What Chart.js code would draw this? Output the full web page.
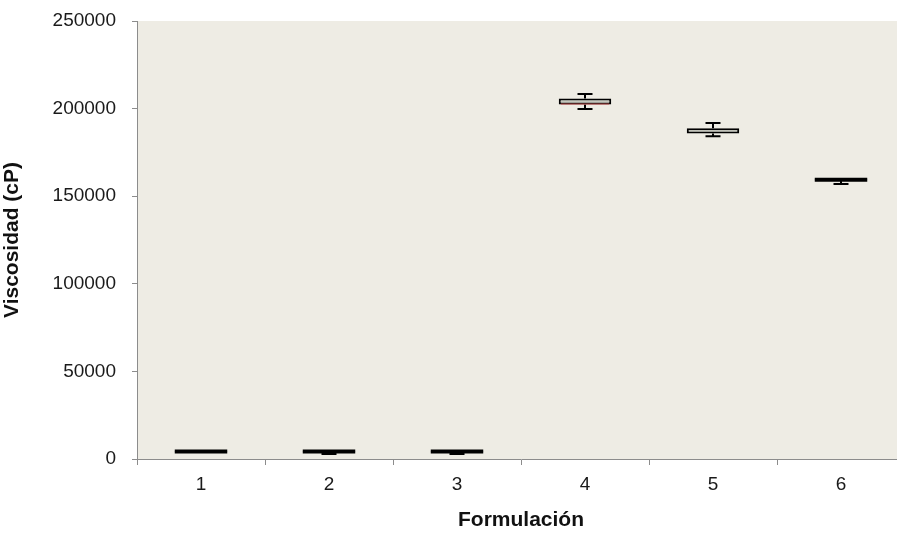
<!DOCTYPE html>
<html>
<head>
<meta charset="utf-8">
<script src="https://cdn.jsdelivr.net/npm/chart.js@4/dist/chart.umd.min.js"></script>
<style>
  html, body { margin: 0; padding: 0; background: #fff; overflow: hidden; }
  #wrap { position: relative; width: 910px; height: 533px; }
</style>
</head>
<body>
<div id="wrap"><canvas id="boxChart"></canvas></div>
<script>
/* ── DATA ─────────────────────────────── */
const categories = ['1', '2', '3', '4', '5', '6'];
const whiskerMin = [4000, 2900, 2900, 199800, 184200, 157000];
const quartile1  = [4000, 4000, 4000, 202300, 185800, 158900];
const medians    = [4300, 4200, 4200, 202600, 185800, 159400];
const quartile3  = [4600, 4500, 4500, 205700, 188800, 160000];
const whiskerMax = [4600, 4500, 4500, 208300, 191800, 160000];
const yTicks     = [0, 50000, 100000, 150000, 200000, 250000];

const FONT = "'Liberation Sans', Arial, sans-serif";

// plot area background
const plotBg = {
    id: 'plotBg',
    beforeDraw(chart) {
        const { ctx, chartArea: a } = chart;
        ctx.save();
        ctx.fillStyle = '#eeece4';
        ctx.fillRect(a.left, a.top, a.right - a.left, a.bottom - a.top);
        ctx.restore();
    }
};

// whiskers + median lines drawn through the scales
const whiskers = {
    id: 'whiskers',
    afterDatasetsDraw(chart) {
        const { ctx } = chart;
        const y = chart.scales.y;
        const meta = chart.getDatasetMeta(0);
        ctx.save();
        meta.data.forEach((bar, i) => {
            const x = bar.x;
            const cap = 7.5;
            const half = bar.width / 2;
            const yTop = y.getPixelForValue(quartile3[i]);
            const yBot = y.getPixelForValue(quartile1[i]);
            ctx.strokeStyle = '#000';
            ctx.lineWidth = 2;
            ctx.beginPath();
            if (whiskerMax[i] > quartile3[i]) {
                ctx.moveTo(x, yTop);
                ctx.lineTo(x, y.getPixelForValue(whiskerMax[i]));
                ctx.moveTo(x - cap, y.getPixelForValue(whiskerMax[i]));
                ctx.lineTo(x + cap, y.getPixelForValue(whiskerMax[i]));
            }
            if (whiskerMin[i] < quartile1[i]) {
                ctx.moveTo(x, yBot);
                ctx.lineTo(x, y.getPixelForValue(whiskerMin[i]));
                ctx.moveTo(x - cap, y.getPixelForValue(whiskerMin[i]));
                ctx.lineTo(x + cap, y.getPixelForValue(whiskerMin[i]));
            }
            ctx.stroke();
            if (yBot - yTop < 4) {
                // collapsed box: thick black bar
                ctx.lineWidth = 4;
                ctx.beginPath();
                ctx.moveTo(x - half, (yTop + yBot) / 2);
                ctx.lineTo(x + half, (yTop + yBot) / 2);
                ctx.stroke();
            } else if (medians[i] !== quartile1[i]) {
                const my = y.getPixelForValue(medians[i]);
                ctx.strokeStyle = '#c0504d';
                ctx.lineWidth = 1;
                ctx.beginPath();
                ctx.moveTo(x - half + 2, my);
                ctx.lineTo(x + half - 2, my);
                ctx.stroke();
            }
        });
        ctx.restore();
    }
};

new Chart(document.getElementById('boxChart'), {
    type: 'bar',
    data: {
        labels: categories,
        datasets: [{
            label: 'Viscosidad',
            data: quartile1.map((q, i) => [q, quartile3[i]]),
            backgroundColor: '#c4c7bd',
            borderColor: '#000',
            borderWidth: 2,
            borderSkipped: false,
            barPercentage: 0.41,
            categoryPercentage: 1
        }]
    },
    options: {
        responsive: true,
        maintainAspectRatio: false,
        animation: false,
        layout: { padding: { left: 0, right: 5, top: 21, bottom: 0 } },
        plugins: {
            legend: { display: false },
            tooltip: { enabled: false }
        },
        scales: {
            x: {
                grid: {
                    drawOnChartArea: false,
                    drawTicks: true,
                    tickLength: 6,
                    color: '#8c8c8c',
                    offset: true
                },
                border: { color: '#8c8c8c', width: 1 },
                ticks: {
                    color: '#1a1a1a',
                    padding: 8,
                    font: { family: FONT, size: 19 }
                },
                title: {
                    display: true,
                    text: 'Formulación',
                    color: '#111',
                    padding: { top: 6, bottom: 0 },
                    font: { family: FONT, size: 21, weight: 'bold' }
                },
                afterFit(s) { s.height = 74; s.paddingLeft = 0; s.paddingRight = 0; }
            },
            y: {
                min: 0,
                max: 250000,
                afterBuildTicks(s) { s.ticks = yTicks.map(v => ({ value: v })); },
                grid: {
                    drawOnChartArea: false,
                    drawTicks: true,
                    tickLength: 5,
                    color: '#8c8c8c'
                },
                border: { color: '#8c8c8c', width: 1 },
                ticks: {
                    color: '#1a1a1a',
                    padding: 16,
                    font: { family: FONT, size: 19 },
                    callback: v => String(v)
                },
                title: {
                    display: true,
                    text: 'Viscosidad (cP)',
                    color: '#111',
                    padding: { top: 0, bottom: 0 },
                    font: { family: FONT, size: 21, weight: 'bold' }
                },
                afterFit(s) { s.width = 137; s.paddingTop = 0; s.paddingBottom = 0; }
            }
        }
    },
    plugins: [plotBg, whiskers]
});
</script>
</body>
</html>
